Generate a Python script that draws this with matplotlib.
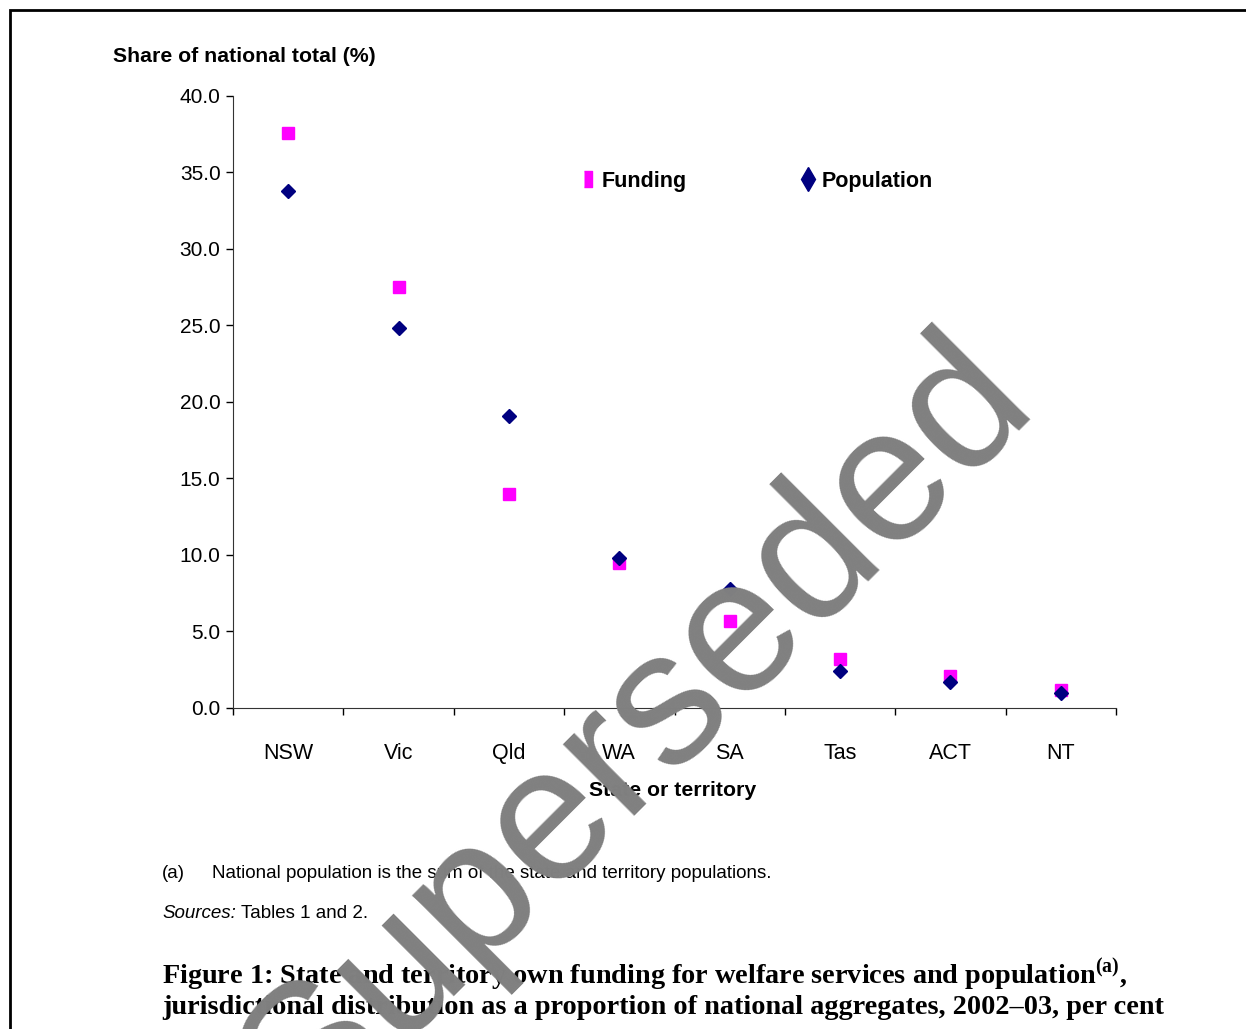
import matplotlib.pyplot as plt
from matplotlib.patches import Rectangle

states = ["NSW", "Vic", "Qld", "WA", "SA", "Tas", "ACT", "NT"]
funding = [37.6, 27.5, 14.0, 9.5, 5.7, 3.2, 2.1, 1.2]
population = [33.8, 24.8, 19.1, 9.8, 7.8, 2.4, 1.7, 1.0]
yticks = [0, 5, 10, 15, 20, 25, 30, 35, 40]

plt.rcParams['font.family'] = ['Liberation Sans', 'DejaVu Sans']

fig = plt.figure(figsize=(12.46, 10.29), dpi=100)
ax = fig.add_axes([0.187, 0.312, 0.7087, 0.5948])

x = list(range(len(states)))
ax.plot(x, funding, 's', color='#ff00ff', markersize=8, linestyle='none', zorder=3)
ax.plot(x, population, 'D', color='#000080', markersize=7, linestyle='none', zorder=4)

ax.set_xlim(-0.5, len(states) - 0.5)
ax.set_ylim(0, 40)
ax.set_yticks(yticks)
ax.set_yticklabels(["%.1f" % v for v in yticks], fontsize=15)
ax.set_xticks([i - 0.5 for i in range(len(states) + 1)])
ax.set_xticklabels([])
ax.set_xticks(x, minor=True)
ax.set_xticklabels(states, minor=True, fontsize=15.5)
ax.tick_params(axis='x', which='minor', length=0, pad=25)
ax.tick_params(axis='both', which='major', direction='out', length=5, width=1)
ax.tick_params(axis='y', pad=4)
for s in ['top', 'right']:
    ax.spines[s].set_visible(False)
ax.spines['left'].set_color('#333333')
ax.spines['bottom'].set_color('#333333')

# legend drawn inside the axes
tall_rect = [(-0.55, -1), (0.55, -1), (0.55, 1), (-0.55, 1)]
ax.plot([2.72], [34.6], marker=tall_rect, color='#ff00ff', markersize=11,
        linestyle='none', clip_on=False)
ax.text(2.84, 34.4, "Funding", fontsize=15.5, fontweight='bold', va='center')
ax.plot([4.71], [34.6], 'd', color='#000080', markersize=12, clip_on=False)
ax.text(4.83, 34.4, "Population", fontsize=15.5, fontweight='bold', va='center')

fig.text(113 / 1246, 1 - 57 / 1029, "Share of national total (%)", fontsize=15.3,
         fontweight='bold', va='center')
fig.text(673 / 1246, 1 - 791 / 1029, "State or territory", fontsize=15.3,
         fontweight='bold', va='center', ha='center')

fig.text(162 / 1246, 1 - 873 / 1029, "(a)", fontsize=13.5, va='center')
fig.text(212 / 1246, 1 - 873 / 1029,
         "National population is the sum of the state and territory populations.",
         fontsize=13.5, va='center')
fig.text(162 / 1246, 1 - 914 / 1029, "Sources:", fontsize=13.5, va='center', style='italic')
fig.text(241 / 1246, 1 - 914 / 1029, "Tables 1 and 2.", fontsize=13.5, va='center')

fig.text(162 / 1246, 1 - 975 / 1029,
         r"Figure 1: State and territory own funding for welfare services and population$^{\mathregular{(a)}}$,",
         fontsize=20.3, fontweight='bold', family='Liberation Serif', va='center')
fig.text(162 / 1246, 1 - 1007 / 1029,
         "jurisdictional distribution as a proportion of national aggregates, 2002\u201303, per cent",
         fontsize=20.3, fontweight='bold', family='Liberation Serif', va='center')

# page frame
fig.add_artist(Rectangle((10 / 1246, -0.05), 1.2, 1 - 10 / 1029 + 0.05,
                         transform=fig.transFigure, fill=False, edgecolor='black', linewidth=2))

# watermark
fig.text(1038 / 1246, 1 - 404 / 1029, "Superseded", fontsize=138, color='#808080', rotation=45,
         ha='right', va='baseline', rotation_mode='anchor', zorder=10)

fig.savefig("out.png", dpi=100)
